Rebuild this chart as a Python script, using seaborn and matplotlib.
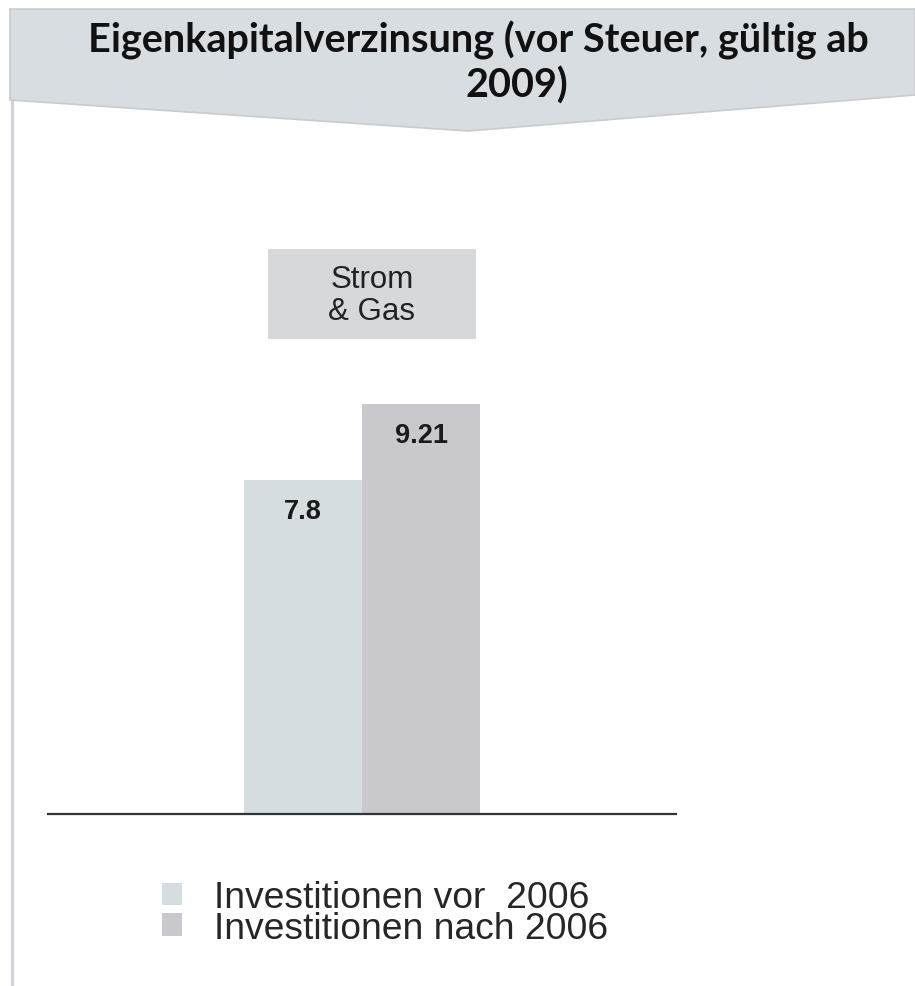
import matplotlib
matplotlib.use("Agg")
import matplotlib.pyplot as plt
import seaborn as sns
import pandas as pd
from matplotlib.patches import Polygon, Rectangle
from matplotlib.lines import Line2D

# ---- data ----
categories = ["Strom & Gas"]
series = ["Investitionen vor  2006", "Investitionen nach 2006"]
values = [7.8, 9.21]
value_labels = ["7.8", "9.21"]
colors = ["#d5dde0", "#c9c8cd"]
title_line1 = "Eigenkapitalverzinsung (vor Steuer, gültig ab"
title_line2 = "2009)"
box_label = "Strom\n& Gas"

df = pd.DataFrame({"Kategorie": categories * len(series),
                   "Serie": series,
                   "Wert": values})

sns.set_theme(style="white")
plt.rcParams["font.family"] = ["Liberation Sans", "DejaVu Sans"]

W, H = 915, 987
fig = plt.figure(figsize=(W / 100, H / 100), dpi=100)

def fx(px):
    return px / W

def fy(py):
    return 1 - py / H

# banner (chevron header)
banner = Polygon([(fx(10), fy(10)), (fx(915), fy(10)), (fx(915), fy(96)),
                  (fx(468), fy(132)), (fx(10), fy(101))],
                 closed=True, transform=fig.transFigure,
                 facecolor="#d7dde1", edgecolor="#c9cbd0", linewidth=1.2, zorder=1)
fig.patches.append(banner)
# left frame line
fig.add_artist(Line2D([fx(12), fx(12)], [fy(101), fy(987)], transform=fig.transFigure,
                      color="#d2d2d8", linewidth=2.2, zorder=1))

fig.text(fx(478), fy(53), title_line1, ha="center", va="baseline",
         fontsize=28.5, fontweight="bold", family=["Lato", "DejaVu Sans"], color="#111111")
fig.text(fx(517), fy(98), title_line2, ha="center", va="baseline",
         fontsize=28.5, fontweight="bold", family=["Lato", "DejaVu Sans"], color="#111111")

# category box
fig.patches.append(Rectangle((fx(268), fy(340)), fx(476) - fx(268), fy(250) - fy(340),
                             transform=fig.transFigure, facecolor="#d7d8da",
                             edgecolor="none", zorder=1))
fig.text(fx(372), fy(296), box_label, ha="center", va="center", fontsize=22.5,
         linespacing=1.1, color="#222222")

# axes
ax = fig.add_axes([fx(48), fy(815), fx(676) - fx(48), fy(140) - fy(815)])
ax.set_facecolor("none")
sns.barplot(data=df, x="Kategorie", y="Wert", hue="Serie", palette=colors,
            width=0.377, gap=0, saturation=1, ax=ax, edgecolor="none", linewidth=0)
ax.set_xlim(-0.5, 0.5)
ax.set_ylim(1.575, 14.145)
for s in ["top", "left", "right"]:
    ax.spines[s].set_visible(False)
ax.spines["bottom"].set_color("#333333")
ax.spines["bottom"].set_linewidth(1.6)
ax.set_xticks([])
ax.set_yticks([])
ax.set_xlabel("")
ax.set_ylabel("")

for cont, lab in zip(ax.containers, value_labels):
    for bar in cont:
        ax.annotate(lab, (bar.get_x() + bar.get_width() / 2, bar.get_height()),
                    xytext=(0, -27.5), textcoords="offset points",
                    ha="center", va="baseline", fontsize=19.5, fontweight="bold",
                    color="#1a1a1a")

handles, labels = ax.get_legend_handles_labels()
if ax.get_legend() is not None:
    ax.get_legend().remove()
fig.legend(handles, labels, loc="center left", bbox_to_anchor=(fx(162), fy(914)),
           frameon=False, fontsize=26.8, handlelength=0.54, handleheight=0.54,
           handletextpad=0.86, labelspacing=-0.12, borderpad=0, borderaxespad=0)

fig.savefig("out.png", dpi=100)
